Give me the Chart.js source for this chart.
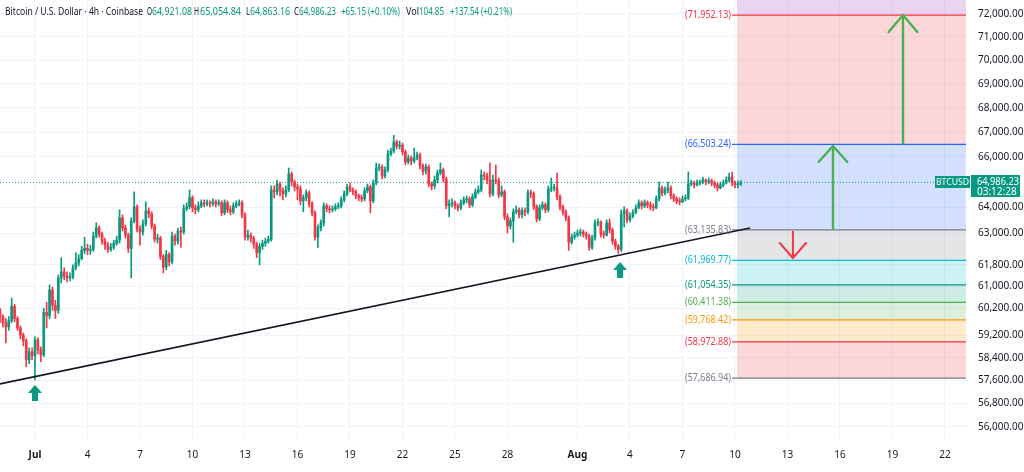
<!DOCTYPE html>
<html>
<head>
<meta charset="utf-8">
<script src="https://cdn.jsdelivr.net/npm/chart.js@4.4.1/dist/chart.umd.min.js"></script>
<style>
  html, body { margin: 0; padding: 0; background: #ffffff; }
  canvas { display: block; }
</style>
</head>
<body>
<canvas id="grafico" width="1024" height="472"></canvas>
<script>
// candles de 4h, tempo em dias a partir de 1 de julho 00:00
const primeiroDia = -2;
const primeiraAbertura = 60115;

const fechamentos = [
  59890, 59665, 59515, 59740, 60265, 59815, 59477, 59222, 59009, 58335,
  58619, 58477, 59045, 58690, 58512, 60040, 59927, 60865, 60302, 60115,
  61315, 61540, 61390, 61315, 61352, 61690, 61877, 62038, 62350, 62428,
  62350, 62389, 62896, 63208, 62974, 62701, 62545, 62389, 62467, 62623,
  62740, 63598, 63208, 62935, 62428, 63481, 64027, 63169, 63052, 63364,
  63871, 63754, 63286, 62779, 62818, 62116, 61727, 62194, 61915, 62896,
  62701, 63091, 63052, 63949, 64027, 64378, 63988, 63910, 64066, 64183,
  64144, 64183, 64144, 64222, 64144, 64183, 63793, 64183, 63910, 63832,
  64066, 64144, 64183, 63715, 62857, 62935, 62818, 62584, 62272, 62506,
  62623, 62701, 62779, 64690, 64612, 64924, 64651, 64534, 64690, 65320,
  65002, 64807, 64729, 64261, 64378, 64573, 64144, 63793, 62857, 63208,
  63403, 64066, 63949, 63910, 63949, 64027, 64066, 64300, 64534, 64807,
  64690, 64612, 64456, 64378, 64339, 64651, 64807, 64261, 64963, 65560,
  65600, 65240, 65480, 66120, 66240, 66600, 66440, 66480, 66200, 65800,
  65960, 65840, 65960, 66080, 65640, 65440, 65600, 64924, 64846, 65080,
  65360, 65480, 65120, 64066, 64144, 64183, 64066, 63988, 64183, 64300,
  64339, 64105, 64417, 64612, 64690, 65280, 65240, 65080, 64534, 65080,
  65041, 64495, 64612, 63637, 63286, 63481, 63832, 63910, 63715, 63871,
  63832, 64573, 64534, 64027, 63559, 63988, 64105, 63910, 64729, 64768,
  64768, 64417, 64027, 63832, 63598, 62662, 62857, 62935, 63013, 63052,
  62974, 62896, 62467, 62818, 63403, 63442, 62974, 62935, 63403, 63130,
  62701, 62506, 62389, 63754, 63871, 63520, 63676, 63793, 63988, 64183,
  64066, 64183, 64105, 64027, 63988, 64339, 64768, 64573, 64690, 64768,
  64456, 64339, 64261, 64222, 64339, 64378, 64924, 64963, 64885, 64963,
  65002, 65080, 65002, 65041, 64963, 64885, 64768, 64885, 64963, 65080,
  65200, 64963, 64885, 64921.08, 64986.23
];

const maximas = [
  60190, 59965, 59815, 59890, 60565, 60340, 59890, 59552, 59293, 59080,
  58761, 58761, 59151, 59116, 58796, 60190, 60415, 61052, 60977, 60490,
  61427, 62077, 61690, 61540, 61502, 61802, 62272, 62194, 62506, 62857,
  62584, 62545, 63052, 63403, 63286, 63052, 62818, 62662, 62623, 62740,
  62896, 63910, 63715, 63325, 63013, 63598, 64612, 64105, 63286, 63520,
  64222, 63988, 63832, 63364, 62974, 62896, 62194, 62350, 62272, 63052,
  62974, 63208, 63247, 64105, 64183, 64690, 64456, 64105, 64222, 64300,
  64300, 64300, 64261, 64339, 64300, 64300, 64261, 64300, 64261, 64066,
  64183, 64261, 64300, 64261, 63793, 63130, 63013, 62896, 62662, 62623,
  62740, 62818, 62896, 64846, 64846, 65080, 65002, 64768, 64846, 65560,
  65400, 65080, 64924, 64846, 64495, 64690, 64651, 64222, 63871, 63325,
  63520, 64183, 64144, 64066, 64066, 64144, 64183, 64417, 64651, 64924,
  64963, 64768, 64690, 64534, 64495, 64768, 64924, 64885, 65080, 65760,
  65720, 65680, 65600, 66280, 66360, 66880, 66680, 66640, 66560, 66280,
  66080, 66040, 66360, 66200, 66160, 65720, 65720, 65680, 65002, 65240,
  65480, 65760, 65560, 65200, 64300, 64339, 64261, 64144, 64300, 64417,
  64456, 64417, 64534, 64729, 64846, 65480, 65400, 65360, 65760, 65280,
  65680, 65160, 64846, 64690, 63754, 63598, 63949, 64066, 63988, 63988,
  63988, 64690, 64690, 64612, 64105, 64105, 64222, 64183, 64846, 65160,
  64924, 65360, 64495, 64105, 63910, 63676, 62974, 63052, 63130, 63169,
  63130, 63052, 62974, 62935, 63520, 63559, 63481, 63091, 63520, 63559,
  63208, 62779, 62584, 63910, 64027, 63949, 63793, 63910, 64105, 64300,
  64261, 64300, 64261, 64222, 64144, 64456, 65002, 64846, 64807, 65002,
  64846, 64534, 64417, 64378, 64456, 64495, 65400, 65080, 65041, 65080,
  65080, 65200, 65120, 65160, 65120, 65041, 64963, 65002, 65080, 65200,
  65360, 65400, 65041, 65041, 65054.84
];

const minimas = [
  59665, 59515, 58938, 59390, 59665, 59702, 59390, 59080, 58832, 58086,
  58193, 58335, 57625, 58548, 58264, 58441, 59477, 59815, 60115, 59815,
  60002, 61127, 61240, 61165, 61202, 61277, 61615, 61765, 61990, 62233,
  62194, 62194, 62311, 62818, 62857, 62584, 62389, 62272, 62311, 62389,
  62545, 62623, 63091, 62818, 62272, 61315, 63403, 63052, 62545, 62935,
  63286, 63598, 63169, 62662, 62623, 61999, 61502, 61615, 61765, 61840,
  62545, 62584, 62467, 62974, 63871, 63949, 63832, 63754, 63832, 63988,
  64027, 64066, 64027, 64066, 64027, 64066, 63676, 63715, 63793, 63715,
  63754, 63988, 64066, 63598, 62740, 62740, 62662, 62428, 62077, 61802,
  62389, 62506, 62623, 62701, 64378, 64495, 64456, 64300, 64417, 64612,
  64846, 64651, 64300, 64105, 63832, 64261, 64027, 63676, 62740, 62467,
  63091, 63286, 63832, 63793, 63832, 63871, 63949, 63988, 64222, 64456,
  64612, 64495, 64339, 64261, 64222, 64261, 64573, 63793, 64183, 64885,
  65440, 65120, 65160, 65400, 66040, 66160, 66320, 66320, 66080, 65680,
  65720, 65680, 65760, 65880, 65520, 65280, 65320, 64807, 64690, 64729,
  64963, 65280, 65002, 63949, 63637, 64027, 63949, 63871, 63910, 64105,
  64183, 63988, 64027, 64339, 64534, 64612, 65080, 64924, 64417, 64456,
  64924, 64378, 64417, 63520, 63013, 63169, 62662, 63754, 63598, 63598,
  63676, 63754, 64378, 63910, 63442, 63481, 63910, 63793, 63832, 64612,
  64651, 64300, 63910, 63715, 63481, 62350, 62584, 62779, 62857, 62896,
  62857, 62779, 62350, 62389, 62740, 63286, 62857, 62818, 62896, 63013,
  62584, 62389, 62233, 62311, 63247, 63403, 63442, 63598, 63754, 63949,
  63949, 63988, 63988, 63910, 63871, 63949, 64261, 64456, 64495, 64573,
  64339, 64222, 64144, 64105, 64183, 64261, 64300, 64846, 64768, 64846,
  64885, 64924, 64885, 64924, 64846, 64768, 64651, 64729, 64807, 64924,
  65002, 64846, 64768, 64768, 64863.16
];

// eixo do tempo (dias) e rótulos
const diasEixo = [0, 3, 6, 9, 12, 15, 18, 21, 24, 27, 31, 34, 37, 40, 43, 46, 49, 52];
const rotulosEixo = ['Jul', '4', '7', '10', '13', '16', '19', '22', '25', '28', 'Aug', '4', '7', '10', '13', '16', '19', '22'];
const precosEixo = [72000, 71000, 70000, 69000, 68000, 67000, 66000, 64000, 63000, 61800, 61000, 60200, 59200, 58400, 57600, 56800, 56000];

// níveis de Fibonacci
const niveisFib = [71952.13, 66503.24, 63135.83, 61969.77, 61054.35, 60411.38, 59768.42, 58972.88, 57686.94];
const coresFib = ['#f23645', '#2962ff', '#787b86', '#00bcd4', '#089981', '#4caf50', '#ff9800', '#f23645', '#787b86'];
const preenchFib = ['rgba(156,39,176,0.2)', 'rgba(242,54,69,0.2)', 'rgba(41,98,255,0.2)', 'rgba(120,123,134,0.2)',
  'rgba(0,188,212,0.2)', 'rgba(8,153,129,0.2)', 'rgba(76,175,80,0.2)', 'rgba(255,152,0,0.2)', 'rgba(242,54,69,0.2)'];
const fibInicioLinha = 39.83;
const fibInicioCaixa = 40.11;
const fibFim = 53.2;

// linha de tendência (dia, preço)
const tendenciaDias = [-2, 40.86];
const tendenciaPrecos = [57484, 63208];

// setas desenhadas: [dia, preço início, preço ponta, preço das asas, meia largura das asas]
const setaAlta1 = [49.6, 66503.24, 71956, 71216, 0.82];
const setaAlta2 = [45.6, 63135.83, 66441, 65800, 0.82];
const setaBaixa = [43.31, 63091, 62064, 62633, 0.75];

// marcadores de seta para cima (dia, preço)
const marcadoresDias = [0, 33.43];
const marcadoresPrecos = [57170, 61610];

const ultimoPreco = 64986.23;

const corAlta = '#089981';
const corBaixa = '#f23645';
const fonte = '"Noto Sans", "DejaVu Sans", sans-serif';

const aberturas = fechamentos.map((c, i) => (i === 0 ? primeiraAbertura : fechamentos[i - 1]));
const tempos = fechamentos.map((c, i) => primeiroDia + i / 6);
const coresCandle = fechamentos.map((c, i) => (c >= aberturas[i] ? corAlta : corBaixa));

function fmt(v) {
  return v.toLocaleString('en-US', { minimumFractionDigits: 2, maximumFractionDigits: 2 });
}

function linhaHoriz(x0, x1, y) {
  return [{ x: x0, y: y }, { x: x1, y: y }];
}

function seta(s, cor, larg) {
  return [
    { type: 'line', data: [{ x: s[0], y: s[1] }, { x: s[0], y: s[2] }], borderColor: cor, borderWidth: larg, pointRadius: 0, order: 0 },
    { type: 'line', data: [{ x: s[0] - s[4], y: s[3] }, { x: s[0], y: s[2] }, { x: s[0] + s[4], y: s[3] }],
      borderColor: cor, borderWidth: larg, pointRadius: 0, order: 0, borderCapStyle: 'round', borderJoinStyle: 'miter' }
  ];
}

function marcaSeta() {
  const c = document.createElement('canvas');
  c.width = 14; c.height = 16;
  const g = c.getContext('2d');
  g.fillStyle = corAlta;
  g.beginPath();
  g.moveTo(7, 0); g.lineTo(14, 8); g.lineTo(10, 8); g.lineTo(10, 16);
  g.lineTo(4, 16); g.lineTo(4, 8); g.lineTo(0, 8); g.closePath();
  g.fill();
  return c;
}

const datasets = [];

// caixas coloridas do Fibonacci
niveisFib.forEach((n, i) => {
  datasets.push({
    type: 'line', data: linhaHoriz(fibInicioCaixa, fibFim, n), borderWidth: 0, pointRadius: 0,
    fill: i === 0 ? 'end' : '-1', backgroundColor: preenchFib[i], order: 10
  });
});

// linhas do Fibonacci
niveisFib.forEach((n, i) => {
  datasets.push({
    type: 'line', data: linhaHoriz(fibInicioLinha, fibFim, n), borderColor: coresFib[i],
    borderWidth: 1.2, pointRadius: 0, fill: false, order: 9
  });
});

// linha do último preço
datasets.push({
  type: 'line', data: linhaHoriz(primeiroDia, 51.43, ultimoPreco), borderColor: corAlta,
  borderWidth: 1, borderDash: [1, 2], pointRadius: 0, fill: false, order: 8
});

// pavios e corpos
datasets.push({
  type: 'bar', data: tempos.map((t, i) => ({ x: t, y: [minimas[i], maximas[i]] })),
  backgroundColor: coresCandle, barThickness: 1, grouped: false, order: 4
});
datasets.push({
  type: 'bar', data: tempos.map((t, i) => ({ x: t, y: [aberturas[i], fechamentos[i]] })),
  backgroundColor: coresCandle, barThickness: 2, minBarLength: 1, grouped: false, order: 3
});

// linha de tendência
datasets.push({
  type: 'line', data: tendenciaDias.map((d, i) => ({ x: d, y: tendenciaPrecos[i] })),
  borderColor: '#131722', borderWidth: 1.6, pointRadius: 0, fill: false, order: 1
});

datasets.push(...seta(setaAlta1, '#4caf50', 2.4));
datasets.push(...seta(setaAlta2, '#4caf50', 2.4));
datasets.push(...seta(setaBaixa, '#f23645', 2));

datasets.push({
  type: 'line', data: marcadoresDias.map((d, i) => ({ x: d, y: marcadoresPrecos[i] })),
  showLine: false, pointStyle: marcaSeta(), pointRadius: 7, order: 0
});

const extras = {
  id: 'extras',
  afterDraw(chart) {
    const ctx = chart.ctx;
    const area = chart.chartArea;
    const xs = chart.scales.x;
    const ys = chart.scales.y;
    ctx.save();

    // rótulos do Fibonacci
    ctx.font = '10px ' + fonte;
    ctx.textAlign = 'right';
    ctx.textBaseline = 'middle';
    const xr = xs.getPixelForValue(fibInicioLinha) - 1;
    niveisFib.forEach((n, i) => {
      ctx.fillStyle = coresFib[i];
      ctx.fillText('(' + fmt(n) + ')', xr, ys.getPixelForValue(n), 46);
    });

    // etiquetas do último preço
    const py = Math.round(ys.getPixelForValue(ultimoPreco));
    ctx.fillStyle = corAlta;
    ctx.fillRect(935, py - 6, 35, 12);
    ctx.fillRect(area.right + 1, py - 7, 49, 22);
    ctx.fillStyle = '#ffffff';
    ctx.textAlign = 'center';
    ctx.font = '9.5px ' + fonte;
    ctx.fillText('BTCUSD', 952.5, py, 33);
    ctx.textAlign = 'left';
    ctx.font = '10px ' + fonte;
    ctx.fillText(fmt(ultimoPreco), area.right + 7, py, 42);
    ctx.fillText('03:12:28', area.right + 7, py + 10, 40);

    // cabeçalho
    const escuro = '#131722';
    const pedacos = [
      ['Bitcoin / U.S. Dollar · 4h · Coinbase', 5, 138, escuro],
      ['O', 147, 5, escuro], ['64,921.08', 152, 40, corAlta],
      ['H', 194, 5, escuro], ['65,054.84', 200, 41, corAlta],
      ['L', 246, 4, escuro], ['64,863.16', 250, 40, corAlta],
      ['C', 294, 5, escuro], ['64,986.23', 299, 37, corAlta],
      ['+65.15 (+0.10%)', 341, 59, corAlta],
      ['Vol', 406, 13, escuro], ['104.85', 419, 25, corAlta],
      ['+137.54 (+0.21%)', 450, 62, corAlta]
    ];
    ctx.font = '10px ' + fonte;
    ctx.textAlign = 'left';
    ctx.textBaseline = 'middle';
    pedacos.forEach((p) => {
      ctx.fillStyle = p[3];
      ctx.fillText(p[0], p[1], 12, p[2]);
    });
    ctx.restore();
  }
};

new Chart(document.getElementById('grafico'), {
  type: 'bar',
  data: { datasets: datasets },
  options: {
    responsive: false,
    animation: false,
    layout: { padding: 0, autoPadding: false },
    plugins: { legend: { display: false }, tooltip: { enabled: false } },
    scales: {
      x: {
        type: 'linear', position: 'bottom', min: primeiroDia, max: 53.43, offset: false, bounds: 'data',
        grid: { color: '#f0f3fa', offset: false, drawTicks: false },
        border: { display: false },
        afterBuildTicks(s) { s.ticks = diasEixo.map((v) => ({ value: v })); },
        afterFit(s) { s.height = 32; s.paddingLeft = 0; s.paddingRight = 0; s.paddingTop = 0; s.paddingBottom = 0; },
        ticks: {
          padding: 9, color: '#131722', maxRotation: 0, autoSkip: false,
          font: (c) => ({ family: fonte, size: 10, weight: (c.tick && (c.tick.value === 0 || c.tick.value === 31)) ? 'bold' : 'normal' }),
          callback: (v) => rotulosEixo[diasEixo.indexOf(v)]
        }
      },
      y: {
        type: 'logarithmic', position: 'right', min: 55555, max: 72616, bounds: 'data', beginAtZero: false,
        grid: { color: '#f0f3fa', drawTicks: false },
        border: { display: false },
        afterBuildTicks(s) { s.ticks = precosEixo.map((v) => ({ value: v })); },
        afterFit(s) { s.width = 54; s.paddingLeft = 0; s.paddingRight = 0; s.paddingTop = 0; s.paddingBottom = 0; },
        ticks: {
          padding: 8, color: '#131722', autoSkip: false,
          font: { family: fonte, size: 10 },
          callback: (v) => fmt(v)
        }
      }
    }
  },
  plugins: [extras]
});
</script>
</body>
</html>
